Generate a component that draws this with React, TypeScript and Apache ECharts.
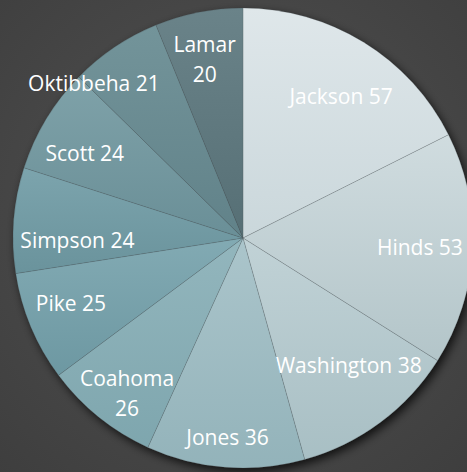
import React, { useEffect, useRef } from "react";
import * as echarts from "echarts";

const counties = ["Jackson", "Hinds", "Washington", "Jones", "Coahoma", "Pike", "Simpson", "Scott", "Oktibbeha", "Lamar"];
const counts = [57, 53, 38, 36, 26, 25, 24, 24, 21, 20];
const wrapped = ["Coahoma", "Lamar"];

// slice gradient colours (top, bottom)
const topColors = ["#dfe7ea", "#d0dcdf", "#c1d2d6", "#abc5cb", "#93b6bd", "#82aab3", "#7ca4ad", "#7fa2a9", "#73949a", "#6a8389"];
const bottomColors = ["#cad7db", "#b3c5c9", "#a8bfc4", "#93b3ba", "#7ea6ae", "#6d98a2", "#6a939c", "#6a8f97", "#618289", "#566f75"];

// label placement tweaks (angle offset in degrees, radial fraction)
const labelAngleShift = [3, 0, -3, 0, -2, 2, -5, -3, -10, -1];
const labelRadius = [0.75, 0.77, 0.72, 0.87, 0.84, 0.8, 0.72, 0.78, 0.935, 0.795];

const CX = 243;
const CY = 238;
const R = 230;

export default function App() {
  const ref = useRef<HTMLDivElement>(null);
  useEffect(() => {
    if (!ref.current) return;
    const chart = echarts.init(ref.current, null, { renderer: "svg" });
    const total = counts.reduce((a, b) => a + b, 0);
    const mids: number[] = [];
    let acc = 0;
    counts.forEach((v) => {
      mids.push(((acc + v / 2) / total) * 360);
      acc += v;
    });
    const data = counties.map((name, i) => ({
      name,
      value: counts[i],
      itemStyle: {
        color: new echarts.graphic.LinearGradient(0, 0, 0, 1, [
          { offset: 0, color: topColors[i] },
          { offset: 1, color: bottomColors[i] },
        ]),
      },
    }));
    chart.setOption({
      animation: false,
      backgroundColor: {
        type: "radial",
        x: 0.5,
        y: 0.45,
        r: 0.75,
        colorStops: [
          { offset: 0, color: "#525252" },
          { offset: 1, color: "#3e3e3e" },
        ],
      },
      series: [
        {
          type: "pie",
          silent: true,
          center: [CX, CY],
          radius: [0, R],
          label: { show: false },
          labelLine: { show: false },
          itemStyle: {
            color: "#3a3a3a",
            shadowBlur: 10,
            shadowOffsetX: 3,
            shadowOffsetY: 4,
            shadowColor: "rgba(0,0,0,0.75)",
          },
          data: [{ value: 1, name: "" }],
        },
        {
          type: "pie",
          center: [CX, CY],
          radius: [0, R],
          startAngle: 90,
          clockwise: true,
          avoidLabelOverlap: false,
          itemStyle: {
            borderColor: "rgba(70,80,85,0.4)",
            borderWidth: 0.5,
          },
          label: {
            show: true,
            position: "inside",
            color: "#ffffff",
            fontFamily: "'Open Sans', sans-serif",
            fontSize: 21,
            lineHeight: 30,
            formatter: (p: any) =>
              wrapped.includes(p.name) ? `${p.name}\n${p.value}` : `${p.name} ${p.value}`,
          },
          labelLine: { show: false },
          labelLayout: (params: any) => {
            const i = params.dataIndex;
            const a = ((mids[i] + labelAngleShift[i]) * Math.PI) / 180;
            const r = R * labelRadius[i];
            return {
              x: CX + r * Math.sin(a),
              y: CY - r * Math.cos(a),
              align: "center",
              verticalAlign: "middle",
            };
          },
          data,
        },
      ],
    });
    return () => chart.dispose();
  }, []);
  return (
    <div
      ref={ref}
      style={{ position: "absolute", left: 0, top: 0, width: 467, height: 472 }}
    />
  );
}
